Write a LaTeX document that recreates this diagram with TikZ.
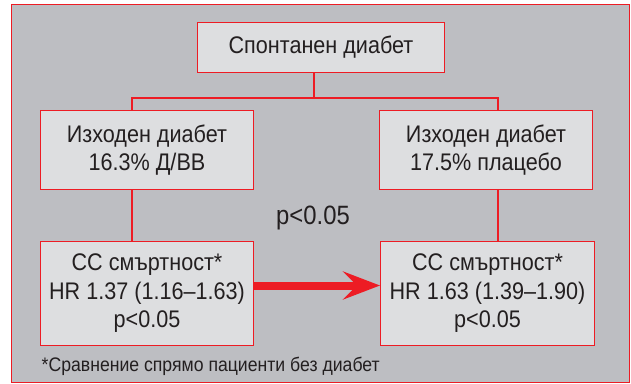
\documentclass[tikz,border=0pt]{standalone}
\usepackage{fontspec}
\setmainfont{Liberation Sans}[FakeStretch=0.9]
\usetikzlibrary{arrows.meta}
\definecolor{framegray}{RGB}{189,190,194}
\definecolor{boxfill}{RGB}{221,222,224}
\definecolor{redline}{RGB}{237,28,36}
\definecolor{ink}{RGB}{35,31,32}
\begin{document}
\begin{tikzpicture}[x=1pt,y=-1pt,
  box/.style={draw=redline, fill=boxfill, line width=1pt, text=ink, align=center,
    font=\fontsize{24}{28.5}\selectfont, inner sep=0pt, anchor=north west},
  link/.style={draw=redline, line width=2pt}]
\useasboundingbox[fill=white] (0,0) rectangle (631,383);
\node[draw=redline, fill=framegray, line width=1pt, minimum width=618pt, minimum height=378pt,
  anchor=north west, inner sep=0pt] (frame) at (11,4) {};
\node[box, minimum width=247pt, minimum height=50pt] (top) at (197,22) {Спонтанен диабет};
\node[box, minimum width=213pt, minimum height=79pt] (ml) at (40,110) {Изходен диабет\\16.3\% Д/ВВ};
\node[box, minimum width=213pt, minimum height=79pt] (mr) at (379,110) {Изходен диабет\\17.5\% плацебо};
\node[box, minimum width=213pt, minimum height=104pt] (bl) at (40,241) {СС смъртност*\\HR 1.37 (1.16–1.63)\\p<0.05};
\node[box, minimum width=214pt, minimum height=104pt] (br) at (380,241) {СС смъртност*\\HR 1.63 (1.39–1.90)\\p<0.05};
\coordinate (j) at (314,98);
\coordinate (jl) at (132,98);
\coordinate (jr) at (498,98);
\draw[link] (top.south -| j) -- (j);
\draw[link] (ml.north -| jl) -- (jl) -- (jr) -- (mr.north -| jr);
\draw[link] (ml.south -| jl) -- (bl.north -| jl);
\draw[link] (mr.south -| jr) -- (br.north -| jr);
\draw[redline, line width=8pt, -{Stealth[length=37pt, width=28pt, inset=14pt]}]
  ([yshift=8pt]bl.east) -- ([yshift=8pt]br.west);
\node[text=ink, font=\fontsize{26.5}{30}\selectfont, inner sep=0pt] (p) at (313,218) {p<0.05};
\node[text=ink, font=\fontsize{19.6}{22}\selectfont, inner sep=0pt, anchor=base west] (fn)
  at (41.5,371.5) {*Сравнение спрямо пациенти без диабет};
\end{tikzpicture}
\end{document}
